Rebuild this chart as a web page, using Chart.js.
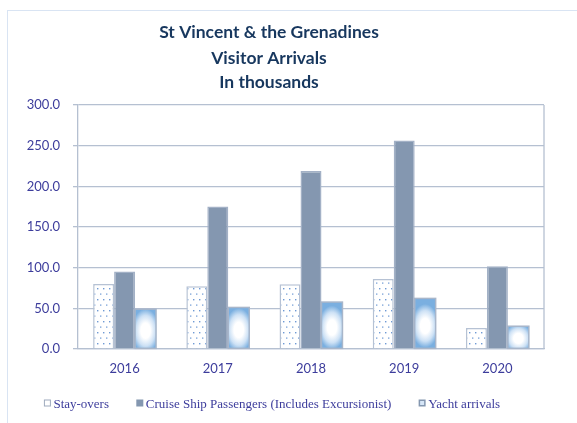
<!DOCTYPE html>
<html>
<head>
<meta charset="utf-8">
<script src="https://cdn.jsdelivr.net/npm/chart.js@4.4.1/dist/chart.umd.min.js"></script>
<style>
  html, body { margin: 0; padding: 0; background: #ffffff; }
  #c { display: block; }
</style>
</head>
<body>
<canvas id="c" width="577" height="423"></canvas>
<script>
// Visitor arrivals, thousands
const years = ['2016', '2017', '2018', '2019', '2020'];
const stayOvers = [79.9, 77.0, 79.6, 86.0, 25.9];
const cruisePassengers = [95.2, 175.3, 219.0, 256.5, 101.7];
const yachtArrivals = [49.0, 51.1, 57.7, 62.2, 28.0];
const seriesNames = ['Stay-overs', 'Cruise Ship Passengers (Includes Excursionist)', 'Yacht arrivals'];
const titleLines = ['St Vincent & the Grenadines', 'Visitor Arrivals', 'In thousands'];
const yMin = 0, yMax = 300, yStep = 50;

const TEXT = '#3d3d9c';
const TITLE = '#17375e';
const GRID = '#b5c0d1';
const CRUISE = '#8497b0';

// dotted fill for the stay-over bars
function dotPattern() {
  const t = document.createElement('canvas');
  t.width = 6; t.height = 11;
  const g = t.getContext('2d');
  g.fillStyle = '#ffffff';
  g.fillRect(0, 0, 6, 11);
  g.fillStyle = '#6f9ad4';
  g.fillRect(1, 2, 1.4, 1.4);
  g.fillRect(4, 7.5, 1.4, 1.2);
  return g.createPattern(t, 'repeat');
}

// white-centred blue shading for the yacht bars
const yachtShade = {
  id: 'yachtShade',
  afterDatasetDraw(chart, args) {
    if (args.index !== 2) return;
    const ctx = chart.ctx;
    args.meta.data.forEach(bar => {
      const w = bar.width, h = bar.base - bar.y;
      const left = bar.x - w / 2, top = bar.y;
      ctx.save();
      ctx.beginPath();
      ctx.rect(left, top, w, h);
      ctx.clip();
      ctx.fillStyle = '#7aafe0';
      ctx.fillRect(left, top, w, h);
      ctx.translate(bar.x, top + h * 0.55);
      ctx.scale(w / 2, Math.min(h / 2, w * 0.8));
      const gr = ctx.createRadialGradient(0, 0, 0, 0, 0, 1.3);
      gr.addColorStop(0, '#ffffff');
      gr.addColorStop(0.35, '#ffffff');
      gr.addColorStop(0.7, '#cde1f5');
      gr.addColorStop(1, '#7aafe0');
      ctx.fillStyle = gr;
      ctx.fillRect(-1.4, -1.4, 2.8, 2.8);
      ctx.restore();
      ctx.save();
      ctx.strokeStyle = '#a8b6ca';
      ctx.lineWidth = 1.5;
      ctx.strokeRect(left, top, w, h);
      ctx.restore();
    });
  }
};

// background, outer frame, plot right edge, title and legend
const decor = {
  id: 'decor',
  beforeDraw(chart) {
    const ctx = chart.ctx;
    ctx.save();
    ctx.fillStyle = '#ffffff';
    ctx.fillRect(0, 0, chart.width, chart.height);
    ctx.strokeStyle = '#d9e4f3';
    ctx.lineWidth = 1;
    ctx.strokeRect(7.5, 10.5, 800, 800);
    ctx.restore();
  },
  afterDraw(chart) {
    const ctx = chart.ctx;
    const a = chart.chartArea;
    ctx.save();
    ctx.strokeStyle = GRID;
    ctx.lineWidth = 1.3;
    ctx.beginPath();
    ctx.moveTo(a.right, a.top);
    ctx.lineTo(a.right, a.bottom);
    ctx.stroke();

    // title
    ctx.fillStyle = TITLE;
    ctx.font = 'bold 17.5px Lato';
    ctx.textAlign = 'center';
    ctx.textBaseline = 'alphabetic';
    const baselines = [38, 63.5, 88];
    titleLines.forEach((s, i) => ctx.fillText(s, 269, baselines[i]));

    // legend
    ctx.font = '13px "Liberation Serif"';
    ctx.textAlign = 'left';
    const box = 7, gapBox = 2.5, gapItem = 27.3;
    const widths = seriesNames.map(s => ctx.measureText(s).width);
    const total = widths.reduce((p, w) => p + box + gapBox + w, 0) + gapItem * (seriesNames.length - 1);
    let x = 272 - total / 2;
    const by = 399.5;
    seriesNames.forEach((s, i) => {
      if (i === 0) {
        ctx.fillStyle = '#ffffff';
        ctx.fillRect(x, by, box, box);
        ctx.strokeStyle = '#9eaabd';
        ctx.lineWidth = 1;
        ctx.strokeRect(x + 0.5, by + 0.5, box - 1, box - 1);
      } else if (i === 1) {
        ctx.fillStyle = CRUISE;
        ctx.fillRect(x, by, box, box);
      } else {
        ctx.fillStyle = '#8497b0';
        ctx.fillRect(x, by, box, box);
        ctx.fillStyle = '#d6e6f7';
        ctx.fillRect(x + 1.5, by + 1.5, box - 3, box - 3);
      }
      ctx.fillStyle = TEXT;
      ctx.fillText(s, x + box + gapBox, 407.5);
      x += box + gapBox + widths[i] + gapItem;
    });
    ctx.restore();
  }
};

const tickFont = { family: 'Lato', size: 13 };

new Chart(document.getElementById('c'), {
  type: 'bar',
  data: {
    labels: years,
    datasets: [
      {
        label: seriesNames[0],
        data: stayOvers,
        backgroundColor: dotPattern(),
        borderColor: '#b6c2d4',
        borderWidth: 1.5
      },
      {
        label: seriesNames[1],
        data: cruisePassengers,
        backgroundColor: CRUISE,
        borderColor: '#a3b1c6',
        borderWidth: 1.5
      },
      {
        label: seriesNames[2],
        data: yachtArrivals,
        backgroundColor: '#9dc3e6',
        borderColor: '#a8b6ca',
        borderWidth: 1.5
      }
    ]
  },
  options: {
    responsive: false,
    animation: false,
    devicePixelRatio: 1,
    datasets: { bar: { categoryPercentage: 0.675, barPercentage: 1.0 } },
    layout: { padding: { left: 0, right: 33, top: 105, bottom: 34 } },
    plugins: {
      legend: { display: false },
      title: { display: false },
      tooltip: { enabled: false }
    },
    scales: {
      x: {
        grid: { display: false, drawTicks: false },
        border: { color: GRID, width: 1.3 },
        ticks: { color: TEXT, font: tickFont, padding: 12 },
        afterFit(s) { s.height = 40; }
      },
      y: {
        min: yMin,
        max: yMax,
        ticks: {
          stepSize: yStep,
          color: TEXT,
          font: tickFont,
          padding: 13,
          callback: v => Number(v).toFixed(1)
        },
        grid: { color: GRID, lineWidth: 1.3, tickLength: 5 },
        border: { color: GRID, width: 1.3 },
        afterFit(s) { s.width = 78; }
      }
    }
  },
  plugins: [decor, yachtShade]
});
</script>
</body>
</html>
